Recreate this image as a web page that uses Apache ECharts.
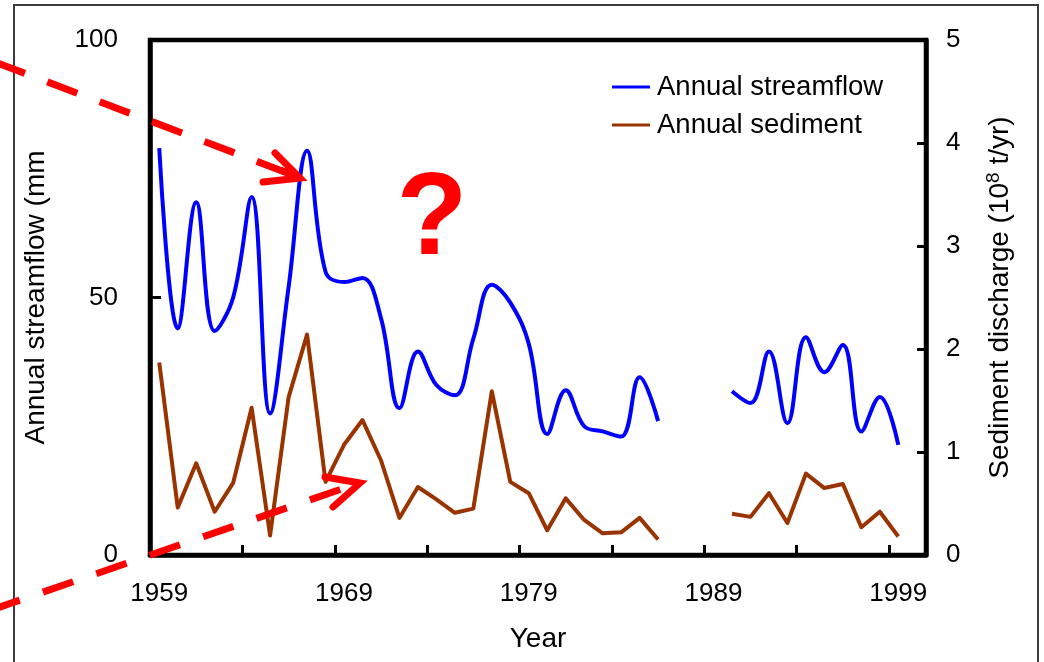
<!DOCTYPE html>
<html>
<head>
<meta charset="utf-8">
<script src="https://cdn.jsdelivr.net/npm/echarts@6/dist/echarts.min.js"></script>
<style>
  html, body { margin: 0; padding: 0; background: #fff; }
  #chart { width: 1044px; height: 662px; }
</style>
</head>
<body>
<div id="chart"></div>
<script>
// Years on the category axis (one slot per year, 1959–2000)
const years = ['1959','1960','1961','1962','1963','1964','1965','1966','1967','1968',
               '1969','1970','1971','1972','1973','1974','1975','1976','1977','1978',
               '1979','1980','1981','1982','1983','1984','1985','1986','1987','1988',
               '1989','1990','1991','1992','1993','1994','1995','1996','1997','1998',
               '1999','2000'];

// Annual streamflow (mm); null = no record
const streamflow = [79, 44, 68.5, 43.5, 50, 69.5, 27.5, 52, 78.5, 55,
                    53, 53.8, 46, 28.5, 39.5, 33, 31, 42, 52.5, 49,
                    41, 23.5, 32, 25, 24, 23, 34.5, 26, null, null,
                    null, 31.8, 29.5, 39.5, 25.6, 42.3, 35.5, 40.8, 24, 30.7,
                    21.4, null];

// Annual sediment discharge (10^8 t/yr); null = no record
const sediment = [1.87, 0.46, 0.89, 0.42, 0.70, 1.43, 0.19, 1.53, 2.14, 0.71,
                  1.07, 1.31, 0.92, 0.36, 0.66, 0.54, 0.41, 0.45, 1.59, 0.71,
                  0.60, 0.24, 0.55, 0.34, 0.21, 0.22, 0.36, 0.15, null, null,
                  null, 0.40, 0.37, 0.60, 0.31, 0.79, 0.65, 0.69, 0.27, 0.42,
                  0.18, null];

const FONT = "'Liberation Sans', Arial, sans-serif";
const RED = '#ff0000';

const chart = echarts.init(document.getElementById('chart'), null, { renderer: 'canvas' });

chart.setOption({
  backgroundColor: '#ffffff',
  animation: false,
  textStyle: { fontFamily: FONT, color: '#000' },
  grid: {
    left: 150, right: 118, top: 40, bottom: 107,
    show: true, borderColor: '#000', borderWidth: 4.5, backgroundColor: 'transparent'
  },
  legend: {
    orient: 'vertical',
    left: 612, top: 72,
    padding: 0,
    icon: 'rect',
    itemWidth: 38, itemHeight: 3,
    itemGap: 8,
    textStyle: { fontFamily: FONT, fontSize: 27.5, color: '#000', lineHeight: 30, padding: [0, 0, 0, 2] },
    data: ['Annual streamflow', 'Annual sediment']
  },
  xAxis: {
    type: 'category',
    data: years,
    boundaryGap: true,
    name: 'Year',
    nameLocation: 'middle',
    nameGap: 70,
    nameTextStyle: { fontFamily: FONT, fontSize: 28, color: '#000' },
    axisLine: { show: true, lineStyle: { color: '#000', width: 4.5 } },
    axisTick: {
      show: true, alignWithLabel: false, inside: true, length: 10, interval: 4,
      lineStyle: { color: '#000', width: 3 }
    },
    axisLabel: { show: true, interval: 9, margin: 26, fontFamily: FONT, fontSize: 26, color: '#000' },
    splitLine: { show: false }
  },
  yAxis: [
    {
      type: 'value',
      min: 0, max: 100, interval: 50,
      position: 'left',
      name: 'Annual streamflow (mm',
      nameLocation: 'middle',
      nameGap: 100,
      nameTextStyle: { fontFamily: FONT, fontSize: 28, color: '#000' },
      axisLine: { show: true, lineStyle: { color: '#000', width: 4.5 } },
      axisTick: { show: true, inside: true, length: 11, lineStyle: { color: '#000', width: 3 } },
      axisLabel: { margin: 32, fontFamily: FONT, fontSize: 26, color: '#000' },
      splitLine: { show: false }
    },
    {
      type: 'value',
      min: 0, max: 5, interval: 1,
      position: 'right',
      name: '{a|Sediment discharge (10}{s|8}{a| t/yr)}',
      nameLocation: 'middle',
      nameGap: 58,
      nameRotate: 90,
      nameTextStyle: {
        fontFamily: FONT, fontSize: 28, color: '#000',
        rich: {
          a: { fontFamily: FONT, fontSize: 28, color: '#000' },
          s: { fontFamily: FONT, fontSize: 19, color: '#000', padding: [0, 0, 14, 0] }
        }
      },
      axisLine: { show: true, lineStyle: { color: '#000', width: 4.5 } },
      axisTick: { show: true, inside: true, length: 9, lineStyle: { color: '#000', width: 3 } },
      axisLabel: { margin: 20, fontFamily: FONT, fontSize: 26, color: '#000' },
      splitLine: { show: false }
    }
  ],
  series: [
    {
      name: 'Annual streamflow',
      type: 'line',
      yAxisIndex: 0,
      data: streamflow,
      smooth: 0.4,
      showSymbol: false,
      connectNulls: false,
      color: '#0000ff',
      lineStyle: { color: '#0000ff', width: 4, join: 'round' },
      z: 3
    },
    {
      name: 'Annual sediment',
      type: 'line',
      yAxisIndex: 1,
      data: sediment,
      smooth: false,
      showSymbol: false,
      connectNulls: false,
      color: '#993300',
      lineStyle: { color: '#993300', width: 4, join: 'round' },
      z: 2
    }
  ],
  graphic: [
    // outer frame of the figure
    {
      type: 'rect', silent: true, z: 0,
      shape: { x: 14, y: 5, width: 1024, height: 700 },
      style: { fill: 'none', stroke: '#3c3c3c', lineWidth: 2 }
    },
    // upper dashed arrow pointing at the 1967 streamflow peak
    {
      type: 'line', silent: true, z: 100,
      shape: { x1: -5, y1: 62, x2: 290, y2: 174 },
      style: { stroke: RED, lineWidth: 7, lineDash: [32, 24] }
    },
    {
      type: 'line', silent: true, z: 100,
      shape: { x1: 280, y1: 170, x2: 298, y2: 177 },
      style: { stroke: RED, lineWidth: 7 }
    },
    {
      type: 'polyline', silent: true, z: 100,
      shape: { points: [[275, 153], [300, 178], [263, 182]] },
      style: { stroke: RED, lineWidth: 7, fill: 'none', lineCap: 'round', lineJoin: 'miter' }
    },
    // lower dashed arrow rising from the origin
    {
      type: 'line', silent: true, z: 100,
      shape: { x1: -10.5, y1: 610.6, x2: 356, y2: 484 },
      style: { stroke: RED, lineWidth: 7, lineDash: [32, 24.5] }
    },
    {
      type: 'polyline', silent: true, z: 100,
      shape: { points: [[325, 477], [360, 483], [333, 507]] },
      style: { stroke: RED, lineWidth: 7, fill: 'none', lineCap: 'round', lineJoin: 'miter' }
    },
    // question mark
    {
      type: 'text', silent: true, z: 100,
      x: 432, y: 222,
      style: {
        text: '?',
        font: "bold 116px 'Liberation Sans', Arial, sans-serif",
        fill: RED,
        align: 'center',
        verticalAlign: 'middle'
      }
    }
  ]
});
</script>
</body>
</html>
